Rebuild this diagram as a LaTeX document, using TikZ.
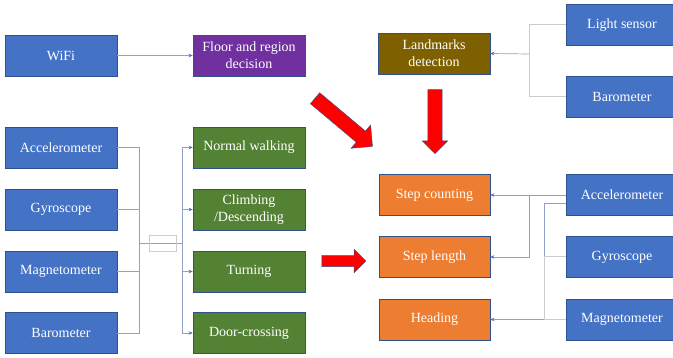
\documentclass[tikz,border=0pt]{standalone}
\usepackage{fontspec}
\setmainfont{Liberation Serif}
\newfontfamily\boxfont{Liberation Serif}
\usepackage{xcolor}
\usepackage{tikz}
\usetikzlibrary{arrows.meta,positioning,shapes.arrows}

\definecolor{sensorblue}{HTML}{4472C4}
\definecolor{edgeblue}{HTML}{2F528F}
\definecolor{modegreen}{HTML}{548235}
\definecolor{floorpurple}{HTML}{7030A0}
\definecolor{landbrown}{HTML}{7F6000}
\definecolor{steporange}{HTML}{ED7D31}
\definecolor{linkgray}{HTML}{8FA2C8}
\definecolor{linklight}{HTML}{C9CCD3}

\begin{document}
\begin{tikzpicture}[x=1pt, y=-1pt,
  box/.style={draw=edgeblue, line width=0.6pt, text=white, minimum width=112pt,
    minimum height=41pt, inner sep=1pt, align=center,
    font=\boxfont\fontsize{14}{17}\selectfont},
  sensor/.style={box, fill=sensorblue},
  mode/.style={box, fill=modegreen},
  stepbox/.style={box, fill=steporange, minimum width=111pt},
  link/.style={draw=linkgray, line width=0.7pt},
  linklt/.style={draw=linklight, line width=1pt},
  tip/.style={-{Stealth[length=4pt,width=3.5pt,color=sensorblue]}},
  bigarrow/.style={single arrow, fill=red, draw=edgeblue, line width=0.4pt,
    inner xsep=0pt, single arrow head indent=0pt}
]
\clip (0,0) rectangle (673,358);

% Top row
\node[sensor] (wifi) at (61,55.5) {WiFi};
\node[box, fill=floorpurple] (floor) at (249,55.5) {Floor and region\\decision};
\node[box, fill=landbrown] (land) at (434,53.5) {Landmarks\\detection};
\node[sensor] (light) at (622,25) {Light sensor};
\node[sensor] (baroT) at (622,97) {Barometer};

% Motion mode sensors and modes
\node[sensor] (accL) at (61,147.5) {Accelerometer};
\node[sensor] (gyroL) at (61,209.5) {Gyroscope};
\node[sensor] (magL) at (61,271.5) {Magnetometer};
\node[sensor] (baroL) at (61,333) {Barometer};
\node[mode] (walk) at (249,147.5) {Normal walking};
\node[mode] (climb) at (249,209.5) {Climbing\\/Descending};
\node[mode] (turn) at (249,271.5) {Turning};
\node[mode] (door) at (249,333) {Door-crossing};

% PDR parts
\node[stepbox] (count) at (434.5,195) {Step counting};
\node[stepbox] (length) at (434.5,257) {Step length};
\node[stepbox] (head) at (434.5,319.5) {Heading};
\node[sensor] (accR) at (622,195) {Accelerometer};
\node[sensor] (gyroR) at (622,257) {Gyroscope};
\node[sensor] (magR) at (622,319.5) {Magnetometer};

% Junction points
\coordinate (topJ) at (529,54);
\coordinate (leftJ) at (139,243);
\coordinate (rightJ) at (182,243);
\coordinate (countJ) at (529,195);
\coordinate (headJ) at (544,319.5);

% Top connectors
\draw[link, tip] (wifi) -- (floor);
\draw[linklt] (light.west) -| (topJ);
\draw[linklt] (baroT.west) -| (topJ);
\draw[link, tip] (topJ) -- (land.east);

% Sensors to motion modes
\foreach \s in {accL,gyroL,magL,baroL}
  \draw[link] (\s.east) -| (leftJ);
\draw[link] (leftJ) -- (rightJ);
\node[draw=linklight, line width=0.8pt, minimum width=27pt, minimum height=16pt, inner sep=0pt] (mix) at (162.5,243) {};
\foreach \m in {walk,climb,turn,door}
  \draw[link, tip] (rightJ) |- (\m.west);

% Sensors to PDR parts
\draw[link, tip] (accR.west) -- (count.east);
\draw[link, tip] (countJ) |- (length.east);
\draw[link] ([yshift=-8pt]accR.west) -| (headJ);
\draw[linklt] (gyroR.west) -| (headJ);
\draw[linklt] (magR.west) -- (headJ);
\draw[link, tip] (headJ) -- (head.east);

% Red arrows
\node[bigarrow, rotate=-40, inner ysep=7pt, minimum height=75pt, single arrow head extend=8pt] (arrD) at (341,120) {};
\node[bigarrow, rotate=-90, inner ysep=7pt, minimum height=64pt, single arrow head extend=5.5pt] (arrV) at (435,118) {};
\node[bigarrow, inner ysep=5.5pt, minimum height=44pt, single arrow head extend=6pt] (arrH) at (341,261) {};

\end{tikzpicture}
\end{document}
